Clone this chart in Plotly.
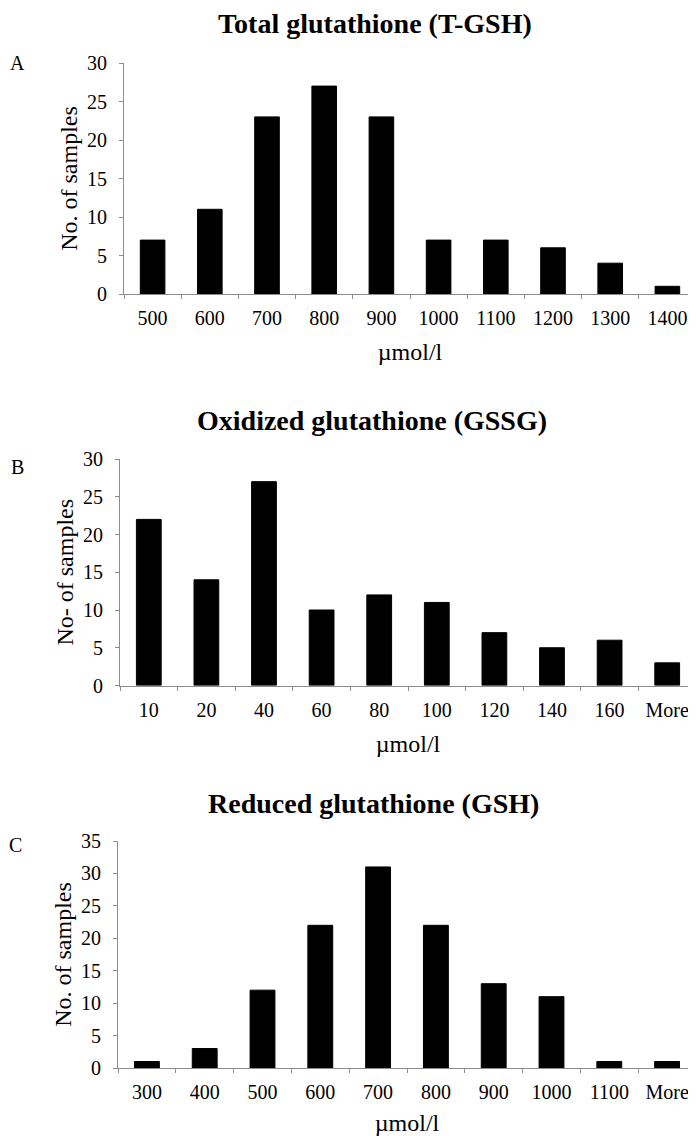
import plotly.graph_objects as go

# page body has an 8px default margin, so the figure is drawn 8px in from the window edge
OFF = 8
W, H = 696 - OFF, 1136 - OFF

# ---- data ----
tgsh_bins = ["500", "600", "700", "800", "900", "1000", "1100", "1200", "1300", "1400"]
tgsh_counts = [7, 11, 23, 27, 23, 7, 7, 6, 4, 1]

gssg_bins = ["10", "20", "40", "60", "80", "100", "120", "140", "160", "More"]
gssg_counts = [22, 14, 27, 10, 12, 11, 7, 5, 6, 3]

gsh_bins = ["300", "400", "500", "600", "700", "800", "900", "1000", "1100", "More"]
gsh_counts = [1, 3, 12, 22, 31, 22, 13, 11, 1, 1]

panel_titles = ["Total glutathione (T-GSH)", "Oxidized glutathione (GSSG)", "Reduced glutathione (GSH)"]
panel_letters = ["A", "B", "C"]
y_titles = ["No. of samples", "No- of samples", "No. of samples"]
x_title = "µmol/l"
y_max = [30, 30, 35]

FONT = "Liberation Serif, Times New Roman, serif"
AX = "#8c8c8c"


def px_x(px):
    return (px - OFF) / W


def px_y(px):
    return 1 - (px - OFF) / H


# window-pixel geometry of each panel: (left, top, bottom)
geo = [(124, 63, 294), (120, 459, 685.5), (118, 841, 1068)]
title_pos = [(375, 23), (372, 420), (373, 803)]
letter_pos = [(17, 63), (17, 467), (15, 845)]

fig = go.Figure()
series = [(tgsh_bins, tgsh_counts), (gssg_bins, gssg_counts), (gsh_bins, gsh_counts)]
annotations = []
layout = {}
for i, (cats, vals) in enumerate(series):
    sfx = "" if i == 0 else str(i + 1)
    fig.add_trace(go.Bar(
        x=cats, y=vals, xaxis="x" + sfx, yaxis="y" + sfx,
        marker=dict(color="black", line=dict(color="black", width=1)),
        showlegend=False, cliponaxis=False,
    ))
    left, top, bottom = geo[i]
    layout["xaxis" + sfx] = dict(
        domain=[px_x(left), 1.0], anchor="y" + sfx, type="category",
        range=[-0.5, 9.5], showline=True, linecolor=AX, linewidth=1,
        ticks="outside", tickson="boundaries", ticklen=4, tickcolor=AX,
        tickfont=dict(family=FONT, size=20, color="black"), ticklabelstandoff=6,
        showgrid=False, zeroline=False, automargin=False,
        title=dict(text=x_title, font=dict(family=FONT, size=24, color="black"), standoff=15),
    )
    layout["yaxis" + sfx] = dict(
        domain=[px_y(bottom), px_y(top)], anchor="x" + sfx,
        range=[0, y_max[i]], dtick=5, showline=True, linecolor=AX, linewidth=1,
        ticks="outside", ticklen=4, tickcolor=AX,
        tickfont=dict(family=FONT, size=20, color="black"), ticklabelstandoff=8,
        showgrid=False, zeroline=False, automargin=False,
        title=dict(text=y_titles[i], font=dict(family=FONT, size=24, color="black"), standoff=2),
    )
    tx, ty = title_pos[i]
    annotations.append(dict(
        text="<b>" + panel_titles[i] + "</b>", x=px_x(tx), y=px_y(ty), xref="paper", yref="paper",
        xanchor="center", yanchor="middle", showarrow=False,
        font=dict(family=FONT, size=28, color="black"),
    ))
    lx, ly = letter_pos[i]
    annotations.append(dict(
        text=panel_letters[i], x=px_x(lx), y=px_y(ly), xref="paper", yref="paper",
        xanchor="center", yanchor="middle", showarrow=False,
        font=dict(family=FONT, size=20, color="black"),
    ))

fig.update_layout(
    width=W, height=H, margin=dict(l=0, r=0, t=0, b=0, autoexpand=False),
    paper_bgcolor="white", plot_bgcolor="white",
    bargap=0.57, annotations=annotations, **layout,
)

fig.write_html("out.html")
